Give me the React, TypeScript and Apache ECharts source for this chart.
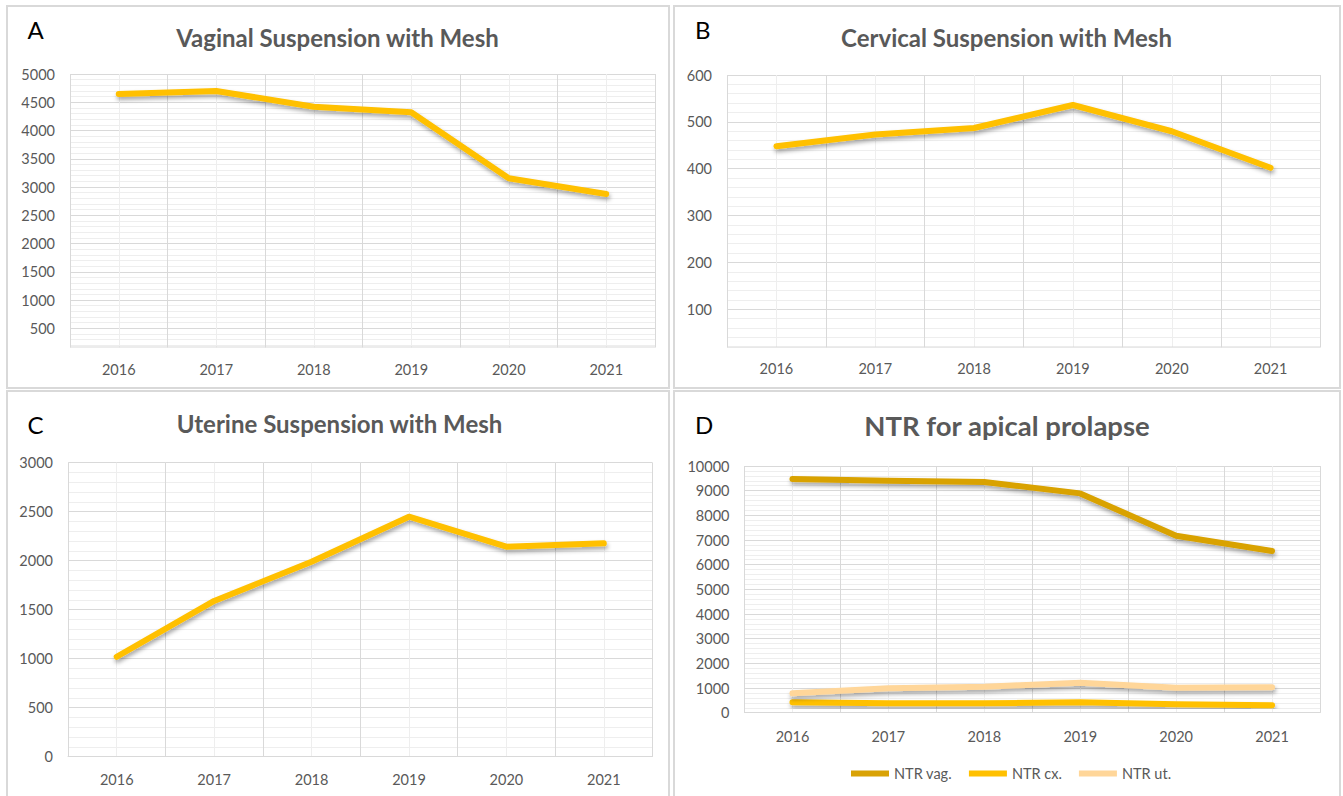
import React, { useEffect, useRef } from "react";
import * as echarts from "echarts";

// ---- data ----
const years = ["2016", "2017", "2018", "2019", "2020", "2021"];
const vaginalMesh = [4646, 4699, 4421, 4322, 3155, 2877];
const cervicalMesh = [448, 473, 487, 536, 480, 402];
const uterineMesh = [1020, 1589, 1990, 2449, 2143, 2177];
const ntrVag = [9473, 9400, 9350, 8890, 7175, 6555];
const ntrCx = [421, 381, 381, 421, 340, 300];
const ntrUt = [786, 989, 1054, 1216, 1013, 1030];

const panelLetters = ["A", "B", "C", "D"];
const panelTitles = [
  "Vaginal Suspension with Mesh",
  "Cervical Suspension with Mesh",
  "Uterine Suspension with Mesh",
  "NTR for apical prolapse",
];
const yMax = [5000, 600, 3000, 10000];
const yInterval = [500, 100, 500, 1000];
const legendNames = ["NTR vag.", "NTR cx.", "NTR ut."];

// ---- styles ----
const FONT = "Lato";
const GOLD = "#FFC000";
const DARK_GOLD = "#D9A206";
const LIGHT_GOLD = "#FFD699";
const LABEL = "#595959";
const MAJOR = "#d9d9d9";
const MINOR = "#eeeeee";
const BORDER = "#d9d9d9";

const grids = [
  { left: 70, top: 74, width: 585, height: 282.6 },
  { left: 727, top: 75, width: 593, height: 281.2 },
  { left: 68, top: 462.7, width: 584.5, height: 294 },
  { left: 744.5, top: 466, width: 575.5, height: 246.7 },
];
const xLabelMargin = [5, 5, 15, 16];
const titlePos = [
  { x: 337.5, top: 25, size: 24 },
  { x: 1006.5, top: 25.5, size: 24 },
  { x: 339.5, top: 411.5, size: 24 },
  { x: 1007, top: 411, size: 27.5 },
];
const letterPos = [
  { left: 27.5, top: 17.5 },
  { left: 695, top: 17.5 },
  { left: 27.5, top: 412 },
  { left: 695, top: 412 },
];

function lineSeries(name: string, data: number[], color: string, i: number) {
  return {
    type: "line",
    name,
    data,
    xAxisIndex: 4 + i,
    yAxisIndex: i,
    showSymbol: false,
    symbol: "none",
    itemStyle: { color },
    lineStyle: {
      color,
      width: 6,
      cap: "round",
      join: "round",
      shadowColor: "rgba(0,0,0,0.35)",
      shadowBlur: 4,
      shadowOffsetX: 1,
      shadowOffsetY: 3,
    },
    z: 3,
  };
}

export default function App() {
  const ref = useRef<HTMLDivElement>(null);

  useEffect(() => {
    if (!ref.current) return;
    const chart = echarts.init(ref.current, undefined, { renderer: "svg" });

    const minorX = grids.map((_, i) => ({
      type: "value",
      gridIndex: i,
      position: "top",
      min: 0,
      max: 12,
      interval: 1,
      axisLabel: { show: false },
      axisLine: { show: false },
      axisTick: { show: false },
      splitLine: { show: true, lineStyle: { color: MINOR, width: 1 } },
    }));
    const catX = grids.map((_, i) => ({
      type: "category",
      gridIndex: i,
      position: "bottom",
      data: years,
      boundaryGap: true,
      axisTick: { show: false },
      axisLine: { show: true, lineStyle: { color: MAJOR, width: 1 } },
      splitLine: { show: true, lineStyle: { color: MAJOR, width: 1 } },
      axisLabel: {
        color: LABEL,
        fontSize: 14.5,
        fontFamily: FONT,
        margin: xLabelMargin[i],
      },
    }));
    const yAxes = grids.map((_, i) => ({
      type: "value",
      gridIndex: i,
      min: 0,
      max: yMax[i],
      interval: yInterval[i],
      axisLine: { show: false },
      axisTick: { show: false },
      splitLine: { show: true, lineStyle: { color: MAJOR, width: 1 } },
      minorTick: { show: false, splitNumber: 5 },
      minorSplitLine: { show: true, lineStyle: { color: MINOR, width: 1 } },
      axisLabel: {
        color: LABEL,
        fontSize: 14.5,
        fontFamily: FONT,
        margin: 15,
        formatter: (v: number) => (i < 2 && v === 0 ? "" : String(v)),
      },
    }));

    const titles: any[] = [];
    panelTitles.forEach((t, i) => {
      titles.push({
        text: t,
        left: titlePos[i].x,
        top: titlePos[i].top,
        textAlign: "center",
        padding: 0,
        textStyle: {
          fontFamily: FONT,
          fontWeight: "bold",
          fontSize: titlePos[i].size,
          color: LABEL,
        },
      });
    });
    panelLetters.forEach((t, i) => {
      titles.push({
        text: t,
        left: letterPos[i].left,
        top: letterPos[i].top,
        padding: 0,
        textStyle: {
          fontFamily: FONT,
          fontWeight: "normal",
          fontSize: 24,
          color: "#000000",
        },
      });
    });

    const borders = [
      { x: 7, y: 6, width: 662, height: 382 },
      { x: 674, y: 6, width: 666, height: 382 },
      { x: 7, y: 391, width: 662, height: 410 },
      { x: 674, y: 391, width: 666, height: 410 },
    ].map((s) => ({
      type: "rect",
      shape: s,
      silent: true,
      style: { fill: "none", stroke: BORDER, lineWidth: 2 },
    }));

    // cropped bottom strip of panels A and B (as in the source figure)
    const covers = [
      { x: 40, x1: 70, x2: 655, w: 625 },
      { x: 700, x1: 727, x2: 1320, w: 625 },
    ].flatMap((c) => [
      {
        type: "rect",
        z: 100,
        silent: true,
        shape: { x: c.x, y: 347.5, width: c.w, height: 11 },
        style: { fill: "#ffffff" },
      },
      {
        type: "line",
        z: 101,
        silent: true,
        shape: { x1: c.x1, y1: 347, x2: c.x2, y2: 347 },
        style: { stroke: MAJOR, lineWidth: 1 },
      },
    ]);

    chart.setOption({
      animation: false,
      backgroundColor: "#ffffff",
      title: titles,
      grid: grids.map((g) => ({ ...g, containLabel: false })),
      xAxis: [...minorX, ...catX],
      yAxis: yAxes,
      legend: {
        data: legendNames,
        left: 851,
        top: 766,
        itemWidth: 38,
        itemHeight: 6,
        itemGap: 17,
        icon: "rect",
        padding: 0,
        textStyle: { color: LABEL, fontSize: 14.5, fontFamily: FONT },
      },
      series: [
        lineSeries("Vaginal Suspension with Mesh", vaginalMesh, GOLD, 0),
        lineSeries("Cervical Suspension with Mesh", cervicalMesh, GOLD, 1),
        lineSeries("Uterine Suspension with Mesh", uterineMesh, GOLD, 2),
        lineSeries("NTR vag.", ntrVag, DARK_GOLD, 3),
        lineSeries("NTR cx.", ntrCx, GOLD, 3),
        lineSeries("NTR ut.", ntrUt, LIGHT_GOLD, 3),
      ],
      graphic: [...borders, ...covers],
    });

    return () => {
      chart.dispose();
    };
  }, []);

  return (
    <div
      ref={ref}
      style={{
        position: "absolute",
        left: 0,
        top: 0,
        width: 1343,
        height: 796,
        background: "#ffffff",
      }}
    />
  );
}
